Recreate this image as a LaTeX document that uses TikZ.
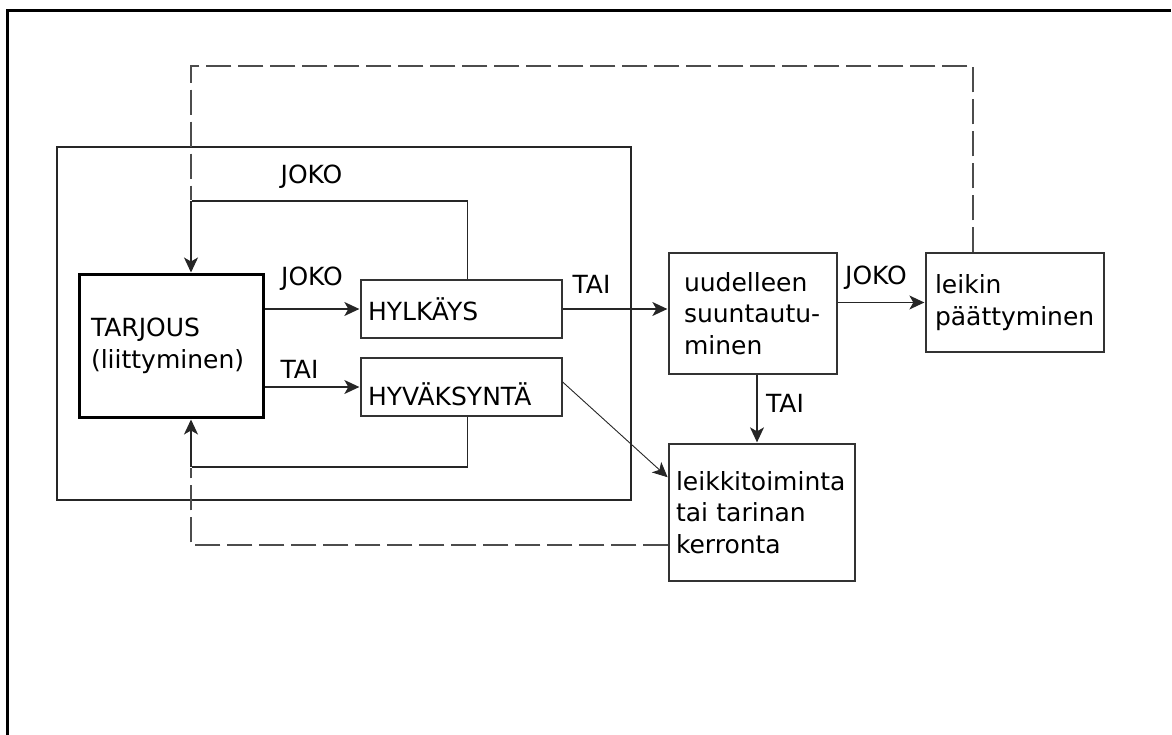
\documentclass[tikz,border=0pt]{standalone}
\usepackage{fontspec}
\setmainfont{DejaVu Sans}
\usepackage{tikz}
\usetikzlibrary{arrows.meta}
\usetikzlibrary{calc}

\begin{document}
\begin{tikzpicture}[x=1pt, y=-1pt, shorten >=1pt,
        box_style/.style={rectangle,draw=black!80,line width=1.3pt,align=left,inner ysep=0pt,font=\fontsize{25}{31.5}\selectfont},
        main_box_style/.style={box_style,draw=black,line width=3pt},
        group_style/.style={rectangle,draw=black!85,line width=1.3pt},
        label_style/.style={font=\fontsize{25}{28}\selectfont,inner sep=0pt},
        edge_style/.style={draw=black!85,line width=1.3pt,-{Stealth[length=15pt,width=14pt,inset=4pt]}},
        plain_edge_style/.style={draw=black!85,line width=1.3pt,-},
        thin_edge_style/.style={draw=black!85,line width=0.9pt,-{Stealth[length=15pt,width=14pt,inset=4pt]}},
        dash_edge_style/.style={draw=black!70,line width=1.4pt,dash pattern=on 25pt off 7pt,-}]

        \useasboundingbox (0,0) rectangle (1172,735);
        \draw [line width=3pt] (7.5,740) -- (7.5,11) -- (1172,11);

        \node [group_style, minimum width=574pt, minimum height=353pt](group) at (344,323.5) {};

        \node [main_box_style, text width=160pt, inner xsep=12pt, minimum height=142pt](tarjous) at (171,346) {TARJOUS\\(liittyminen)};
        \node [box_style, text width=187pt, inner xsep=7pt, minimum height=58pt](hylkays) at (461.5,309) {HYLKÄYS};
        \node [box_style, text width=187pt, inner xsep=7pt, minimum height=58pt, text height=37pt, text depth=0pt](hyvaksynta) at (461.5,387) {HYVÄKSYNTÄ};
        \node [box_style, text width=138pt, inner xsep=15pt, minimum height=121pt](uudelleen) at (753,313.5) {uudelleen\\suuntautu-\\minen};
        \node [box_style, text width=172pt, inner xsep=7pt, minimum height=137pt](kerronta) at (762,512.5) {leikkitoiminta\\tai tarinan\\kerronta};
        \node [box_style, text width=160pt, inner xsep=9pt, minimum height=99pt](leikin) at (1015,302.5) {leikin\\päättyminen};

        \coordinate (dashtop) at (191,66);
        \coordinate (topbend) at (191,201);
        \coordinate (botbend) at (191,467);

        \node [label_style](joko_top) at (311.5,177) {JOKO};
        \node [label_style](joko_mid) at (312,279) {JOKO};
        \node [label_style](tai_mid) at (299.5,369) {TAI};
        \node [label_style](tai_right) at (591.5,284) {TAI};
        \node [label_style](joko_right) at (876,278) {JOKO};
        \node [label_style](tai_down) at (785,403) {TAI};

        \draw [edge_style] (tarjous.east |- hylkays.west) -- (hylkays.west);
        \draw [edge_style] (tarjous.east |- hyvaksynta.west) -- (hyvaksynta.west);
        \draw [edge_style] (hylkays.east) -- (hylkays.east -| uudelleen.west);
        \draw [edge_style] (uudelleen.east |- leikin.west) -- (leikin.west);
        \draw [edge_style] ([xshift=4pt]uudelleen.south) -- ([xshift=4pt]uudelleen.south |- kerronta.north);
        \draw [thin_edge_style] ([yshift=5pt]hyvaksynta.east) -- ($(kerronta.north west)!0.25!(kerronta.south west)$);
        \draw [plain_edge_style] ([xshift=6pt]hylkays.north) |- (topbend);
        \draw [edge_style] (topbend) -- (topbend |- tarjous.north);
        \draw [plain_edge_style] ([xshift=6pt]hyvaksynta.south) |- (botbend);
        \draw [edge_style] (botbend) -- (botbend |- tarjous.south);
        \draw [dash_edge_style] ([xshift=-42pt]leikin.north) |- (dashtop) -- (topbend);
        \draw [dash_edge_style] ([yshift=-32.5pt]kerronta.west) -| (botbend);
\end{tikzpicture}
\end{document}
